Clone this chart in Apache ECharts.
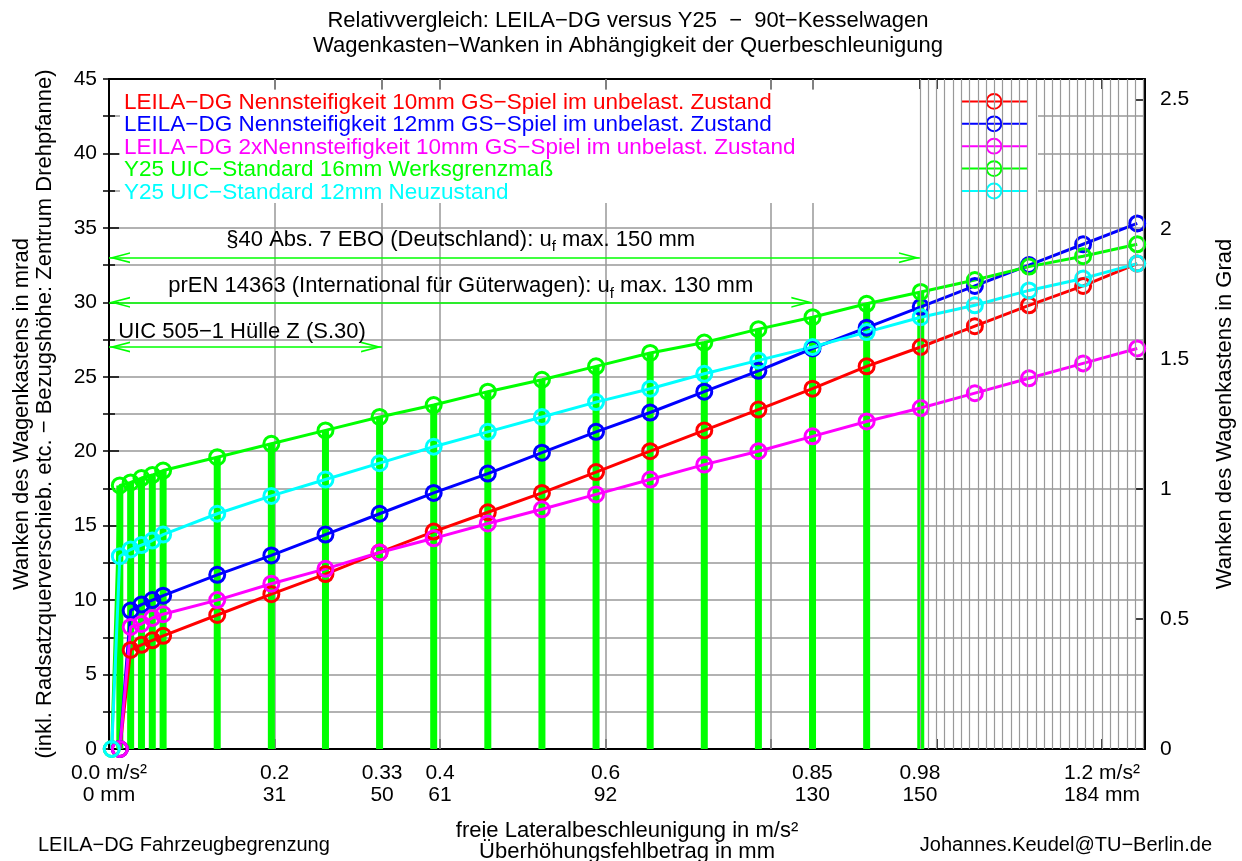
<!DOCTYPE html>
<html>
<head>
<meta charset="utf-8">
<title>LEILA-DG versus Y25</title>
<script src="https://cdn.jsdelivr.net/npm/echarts@6/dist/echarts.min.js"></script>
<style>
  html, body { margin: 0; padding: 0; background: #fff; }
  #chart { width: 1242px; height: 861px; }
</style>
</head>
<body>
<div id="chart"></div>
<script>
// x values are Überhöhungsfehlbetrag in mm, y values are Wanken in mrad
const MM_PER_MS2 = 1500 / 9.81;
const DEG_PER_MRAD = 180 / Math.PI / 1000;
const X_MAX_MS2 = 1.252;

const titleLines = [
    'Relativvergleich: LEILA−DG versus Y25  −  90t−Kesselwagen',
    'Wagenkasten−Wanken in Abhängigkeit der Querbeschleunigung'
];
const footerLeft = 'LEILA−DG Fahrzeugbegrenzung';
const footerRight = 'Johannes.Keudel@TU−Berlin.de';

const tickAccel = [0, 0.2, 0.33, 0.4, 0.6, 0.85, 0.98, 1.2];
const tickTop = ['0.0 m/s²', '0.2', '0.33', '0.4', '0.6', '0.85', '0.98', '1.2 m/s²'];
const tickBottom = ['0 mm', '31', '50', '61', '92', '130', '150', '184 mm'];
const tickMarkAccel = [0.2, 0.33, 0.4, 0.6, 0.8, 0.85, 0.98, 1.0, 1.2];
const gridAccel = [0.2, 0.33, 0.4, 0.6, 0.8, 0.85];
const fineGridStart = 0.98, fineGridEnd = 1.25, fineGridStep = 0.01;

const seriesNames = [
    'LEILA−DG Nennsteifigkeit 10mm GS−Spiel im unbelast. Zustand',
    'LEILA−DG Nennsteifigkeit 12mm GS−Spiel im unbelast. Zustand',
    'LEILA−DG 2xNennsteifigkeit 10mm GS−Spiel im unbelast. Zustand',
    'Y25 UIC−Standard 16mm Werksgrenzmaß',
    'Y25 UIC−Standard 12mm Neuzustand'
];
const seriesColors = ['#ff0000', '#0000ff', '#ff00ff', '#00ff00', '#00ffff'];

const xLeila = [2, 4, 6, 8, 10, 20, 30, 40, 50, 60, 70, 80, 90, 100, 110, 120, 130, 140, 150, 160, 170, 180, 190];
const xY25 = [0.5, 2, 4, 6, 8, 10, 20, 30, 40, 50, 60, 70, 80, 90, 100, 110, 120, 130, 140, 150, 160, 170, 180, 190];

const leila10 = [0, 6.65, 7.0, 7.3, 7.6, 9.0, 10.4, 11.75, 13.2, 14.6, 15.9, 17.2, 18.6, 20.0, 21.4, 22.8, 24.2, 25.7, 27.0, 28.4, 29.8, 31.1, 32.6];
const leila12 = [0, 9.3, 9.7, 10.0, 10.3, 11.7, 13.0, 14.4, 15.8, 17.2, 18.5, 19.9, 21.3, 22.6, 24.0, 25.4, 26.9, 28.3, 29.7, 31.1, 32.5, 33.9, 35.3];
const leila2x = [0, 8.2, 8.4, 8.8, 9.05, 10.0, 11.1, 12.1, 13.2, 14.15, 15.15, 16.1, 17.1, 18.1, 19.1, 20.0, 21.0, 22.0, 22.9, 23.9, 24.9, 25.9, 26.9];
const y25w16 = [0, 17.7, 17.9, 18.2, 18.4, 18.7, 19.6, 20.5, 21.4, 22.3, 23.1, 24.0, 24.8, 25.7, 26.6, 27.3, 28.2, 29.0, 29.9, 30.7, 31.5, 32.4, 33.1, 33.9];
const y25n12 = [0, 12.95, 13.4, 13.7, 14.0, 14.4, 15.8, 17.0, 18.1, 19.2, 20.3, 21.3, 22.3, 23.3, 24.2, 25.2, 26.1, 27.0, 28.0, 29.0, 29.8, 30.8, 31.6, 32.6];

// impulses of the 16mm curve up to 150 mm
const barMaxMm = 150;

const arrowDefs = [
    { y: 33.0, toAccel: 0.98 },
    { y: 30.0, toAccel: 0.85 },
    { y: 27.0, toAccel: 0.33 }
];
const notes = [
    { text: '§40 Abs. 7 EBO (Deutschland): u{s|f} max. 150 mm', x: 65.0, y: 34.2, align: 'center' },
    { text: 'prEN 14363 (International für Güterwagen): u{s|f} max. 130 mm', x: 65.0, y: 31.1, align: 'center' },
    { text: 'UIC 505−1 Hülle Z (S.30)', x: 1.7, y: 28.0, align: 'left' }
];

const xName = 'freie Lateralbeschleunigung in m/s²\nÜberhöhungsfehlbetrag in mm';
const yName = 'Wanken des Wagenkastens in mrad\n(inkl. Radsatzquerverschieb. etc. − Bezugshöhe: Zentrum Drehpfanne)';
const y2Name = 'Wanken des Wagenkastens in Grad';

const toMm = a => a * MM_PER_MS2;
const pair = (xs, ys) => xs.map((x, i) => [x, ys[i]]);

const tickMm = tickAccel.map(toMm);
const fineMm = [];
for (let a = fineGridStart; a <= fineGridEnd + 1e-9; a += fineGridStep) fineMm.push(toMm(a));

const curves = [
    pair(xLeila, leila10),
    pair(xLeila, leila12),
    pair(xLeila, leila2x),
    pair(xY25, y25w16),
    pair(xY25, y25n12)
];

const chart = echarts.init(document.getElementById('chart'), null, { renderer: 'canvas' });
const FONT = 'Liberation Sans, Arial, Helvetica, sans-serif';
const black = '#000';
const gridGray = '#999';

// open arrow head, tip at the centre of the box (empty sub path pads the box)
const chevron = 'path://M5,0L10,20L8.5,20L5,6L1.5,20L0,20ZM5,-20L5.01,-20L5,-19.99Z';

const option = {
    animation: false,
    backgroundColor: '#fff',
    textStyle: { fontFamily: FONT, color: black },
    title: [
        {
            text: titleLines.join('\n'), left: 628, top: 8, textAlign: 'center', padding: 0,
            textStyle: { fontSize: 22, fontWeight: 'normal', lineHeight: 25, color: black, fontFamily: FONT }
        },
        {
            text: footerLeft, left: 38, top: 834, padding: 0,
            textStyle: { fontSize: 20, fontWeight: 'normal', lineHeight: 22, color: black, fontFamily: FONT }
        },
        {
            text: footerRight, right: 30, top: 834, padding: 0,
            textStyle: { fontSize: 20, fontWeight: 'normal', lineHeight: 22, color: black, fontFamily: FONT }
        }
    ],
    legend: [
        {
            data: seriesNames.map((n, i) => ({ name: n, textStyle: { color: seriesColors[i] } })),
            orient: 'vertical', left: 117, top: 91, padding: 0,
            itemWidth: 1, itemHeight: 1, itemGap: -0.5,
            itemStyle: { opacity: 0 }, lineStyle: { opacity: 0 },
            textStyle: { fontSize: 22.5, lineHeight: 21, fontFamily: FONT },
            selectedMode: false
        },
        {
            data: seriesNames,
            orient: 'vertical', left: 960, top: 93, padding: 0,
            itemWidth: 66, itemHeight: 18.5, itemGap: 5.6,
            formatter: () => '',
            textStyle: { fontSize: 1, lineHeight: 1 },
            selectedMode: false
        }
    ],
    grid: { left: 109, right: 97, top: 79, bottom: 112, containLabel: false, outerBoundsMode: 'none' },
    graphic: [
        {
            type: 'rect', z: 1.5, silent: true,
            shape: { x: 120, y: 90, width: 918, height: 113 },
            style: { fill: '#fff' }
        }
    ],
    xAxis: [
        {
            type: 'value', min: 0, max: toMm(X_MAX_MS2), position: 'bottom',
            axisLine: { show: true, onZero: false, lineStyle: { color: black, width: 2 } },
            axisTick: { show: true, inside: true, length: 10, customValues: tickMarkAccel.map(toMm), lineStyle: { color: black, width: 1.5 } },
            axisLabel: {
                customValues: tickMm, fontSize: 21, lineHeight: 22, margin: 13, color: black,
                formatter: v => {
                    const i = tickMm.findIndex(t => Math.abs(t - v) < 0.01);
                    return i < 0 ? '' : tickTop[i] + '\n' + tickBottom[i];
                }
            },
            splitLine: { show: false },
            name: xName, nameLocation: 'middle', nameGap: 71,
            nameTextStyle: { fontSize: 22, lineHeight: 21, color: black }
        },
        {
            type: 'value', min: 0, max: toMm(X_MAX_MS2), position: 'top',
            axisLine: { show: true, onZero: false, lineStyle: { color: black, width: 2 } },
            axisTick: { show: true, inside: true, length: 10, customValues: tickMarkAccel.map(toMm), lineStyle: { color: black, width: 1.5 } },
            axisLabel: { show: false },
            splitLine: { show: false }
        }
    ],
    yAxis: [
        {
            type: 'value', min: 0, max: 45, interval: 5, position: 'left',
            axisLine: { show: true, onZero: false, lineStyle: { color: black, width: 2 } },
            axisTick: { inside: true, length: 10, lineStyle: { color: black, width: 1.5 } },
            minorTick: { show: true, splitNumber: 2, length: 6, lineStyle: { color: black, width: 1.5 } },
            splitLine: { show: true, lineStyle: { color: gridGray, width: 1.5 } },
            minorSplitLine: { show: true, lineStyle: { color: gridGray, width: 1.5 } },
            axisLabel: { fontSize: 21, margin: 12, color: black },
            name: yName, nameLocation: 'middle', nameRotate: 90, nameGap: 53,
            nameTextStyle: { fontSize: 22, lineHeight: 23, color: black }
        },
        {
            type: 'value', min: 0, max: 45 * DEG_PER_MRAD, interval: 0.5, position: 'right',
            axisLine: { show: true, onZero: false, lineStyle: { color: black, width: 2 } },
            axisTick: { inside: true, length: 10, lineStyle: { color: black, width: 1.5 } },
            axisLabel: { fontSize: 21, margin: 15, color: black, showMaxLabel: false },
            splitLine: { show: false },
            name: y2Name, nameLocation: 'middle', nameRotate: 90, nameGap: 69,
            nameTextStyle: { fontSize: 22, color: black }
        },
        {
            type: 'value', min: 0, max: 45, interval: 2.5, position: 'right',
            axisLine: { show: false },
            axisTick: { inside: true, length: 6, lineStyle: { color: black, width: 1.5 } },
            axisLabel: { show: false },
            splitLine: { show: false }
        }
    ],
    series: [
        {
            name: 'grid', type: 'line', data: [], silent: true,
            markLine: {
                z: 1, silent: true, symbol: 'none', animation: false,
                label: { show: false },
                lineStyle: { color: gridGray, width: 1.5, type: 'solid' },
                data: gridAccel.map(a => ({ xAxis: toMm(a) }))
            }
        },
        {
            name: 'impulses', type: 'bar', z: 2, barWidth: 7, silent: true,
            itemStyle: { color: '#00ff00' },
            data: curves[3].filter(p => p[0] > 1 && p[0] <= barMaxMm)
        },
        {
            name: 'arrows', type: 'line', data: [], silent: true,
            markLine: {
                z: 2.5, silent: true, animation: false,
                symbol: [chevron, chevron], symbolSize: [11, 42],
                label: { show: false },
                lineStyle: { color: '#00ff00', width: 1.5, type: 'solid' },
                data: arrowDefs.map(d => [{ coord: [0, d.y] }, { coord: [toMm(d.toAccel), d.y] }])
            }
        },
        ...seriesNames.map((n, i) => ({
            name: n, type: 'line', z: 3, clip: false,
            data: curves[i],
            symbol: 'circle', symbolSize: 15,
            lineStyle: { color: seriesColors[i], width: 3 },
            itemStyle: { color: 'rgba(255,255,255,0)', borderColor: seriesColors[i], borderWidth: 3 }
        })),
        {
            name: 'notes', type: 'scatter', z: 3, symbolSize: 0, silent: true,
            itemStyle: { opacity: 1 },
            data: notes.map(nt => ({
                value: [nt.x, nt.y],
                label: {
                    show: true,
                    position: nt.align === 'left' ? 'right' : 'inside',
                    distance: 0,
                    formatter: nt.text,
                    fontSize: 22, lineHeight: 30, color: black, opacity: 1, fontFamily: FONT,
                    rich: { s: { fontSize: 15, lineHeight: 14, verticalAlign: 'bottom', color: black, fontFamily: FONT } }
                }
            }))
        },
        {
            name: 'finegrid', type: 'line', data: [], silent: true,
            markLine: {
                z: 6, silent: true, symbol: 'none', animation: false,
                label: { show: false },
                lineStyle: { color: gridGray, width: 1.2, type: 'solid' },
                data: fineMm.map(v => ({ xAxis: v }))
            }
        }
    ]
};

chart.setOption(option);
</script>
</body>
</html>
